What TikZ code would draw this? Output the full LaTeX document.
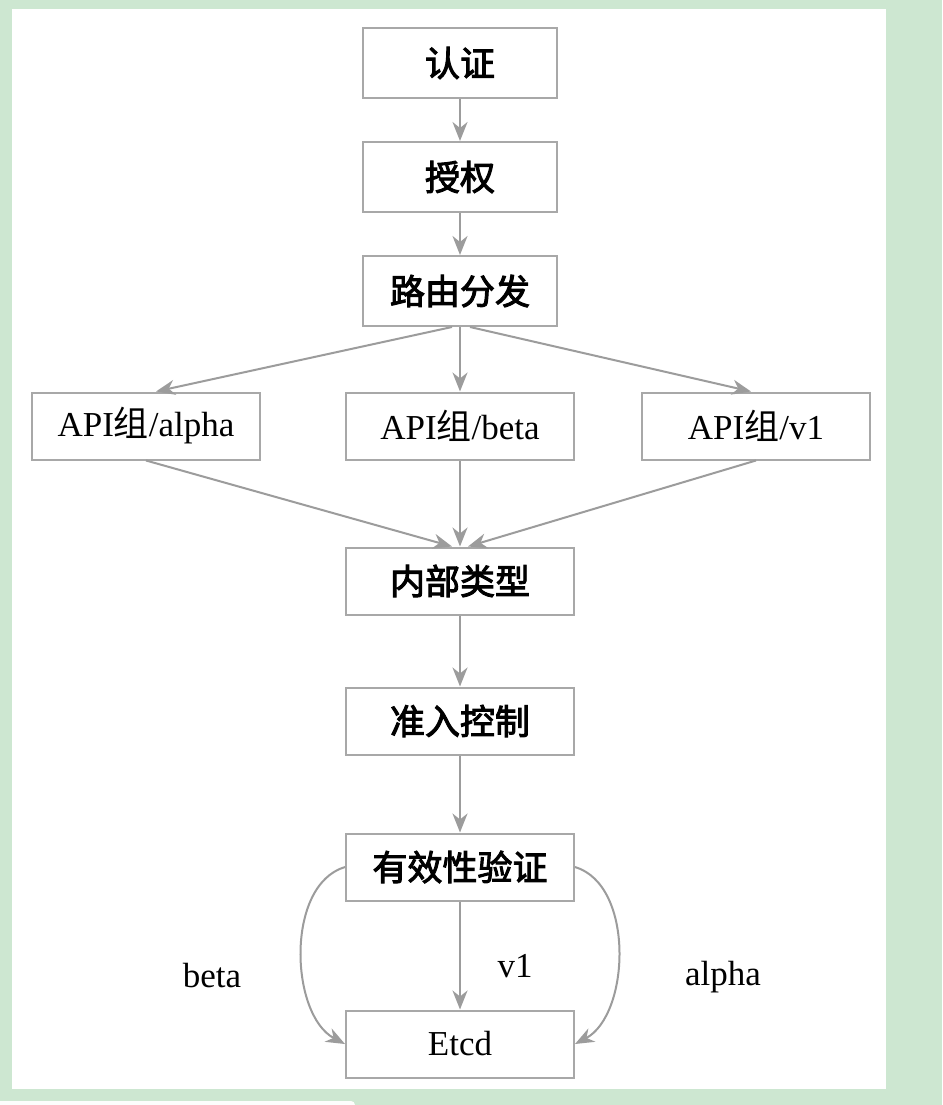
\documentclass[tikz,border=0pt]{standalone}
\usepackage{fontspec}
\setmainfont{Liberation Serif}
\newfontfamily\cjk{Noto Sans CJK SC}
\newfontfamily\cjkm{Noto Sans CJK SC}[FakeBold=2.8]
\usetikzlibrary{arrows.meta}
\definecolor{bggreen}{HTML}{CDE7D1}
\definecolor{linegray}{HTML}{9C9C9C}
\definecolor{boxgray}{HTML}{A8A8A8}
\tikzset{
  box/.style={draw=boxgray, line width=2pt, fill=white, inner sep=0pt, minimum width=228pt, minimum height=67pt},
  topbox/.style={box, minimum width=194pt, minimum height=70pt},
  zh/.style={font=\cjkm\fontsize{35}{40}\selectfont},
  en/.style={font=\fontsize{35}{40}\selectfont},
  conn/.style={draw=linegray, line width=2pt, -{Stealth[length=19pt, width=15pt, inset=6pt]}},
  lbl/.style={font=\fontsize{35}{40}\selectfont, inner sep=0pt}
}
\begin{document}
\begin{tikzpicture}[x=1pt,y=-1pt]
\useasboundingbox (0,0) rectangle (942,1105);
\fill[bggreen] (0,0) rectangle (942,1105);
\fill[white] (12,9) rectangle (886,1089);
\fill[white!94!bggreen, rounded corners=4pt] (-5,1101) rectangle (355,1110);

\node[topbox, zh] (auth) at (460,63) {认证};
\node[topbox, zh] (authz) at (460,177) {授权};
\node[topbox, zh] (route) at (460,291) {路由分发};
\node[box, en] (alpha) at (146,426) {API{\cjk 组}/alpha};
\node[box, en] (beta) at (460,426) {API{\cjk 组}/beta};
\node[box, en] (v1) at (756,426) {API{\cjk 组}/v1};
\node[box, zh] (inner) at (460,581) {内部类型};
\node[box, zh] (admit) at (460,721) {准入控制};
\node[box, zh] (valid) at (460,867) {有效性验证};
\node[box, en] (etcd) at (460,1044) {Etcd};

\coordinate (rl) at ([xshift=-8pt]route.south);
\coordinate (rr) at ([xshift=10pt]route.south);
\coordinate (il) at ([xshift=-8pt]inner.north);
\coordinate (ir) at ([xshift=8pt]inner.north);
\coordinate (at) at ([xshift=10pt]alpha.north);
\coordinate (vt) at ([xshift=-5pt]v1.north);

\draw[conn] (auth) -- (authz);
\draw[conn] (authz) -- (route);
\draw[conn] (rl) -- (at);
\draw[conn] (route) -- (beta);
\draw[conn] (rr) -- (vt);
\draw[conn] (alpha.south) -- (il);
\draw[conn] (beta) -- (inner);
\draw[conn] (v1.south) -- (ir);
\draw[conn] (inner) -- (admit);
\draw[conn] (admit) -- (valid);
\draw[conn] (valid) -- (etcd);
\draw[conn] (valid.west) .. controls (285,885) and (290,1015) .. (etcd.west);
\draw[conn] (valid.east) .. controls (635,885) and (630,1015) .. (etcd.east);

\node[lbl] (lbeta) at (212,976) {beta};
\node[lbl] (lv1) at (515,966) {v1};
\node[lbl] (lalpha) at (723,977) {alpha};
\end{tikzpicture}
\end{document}
